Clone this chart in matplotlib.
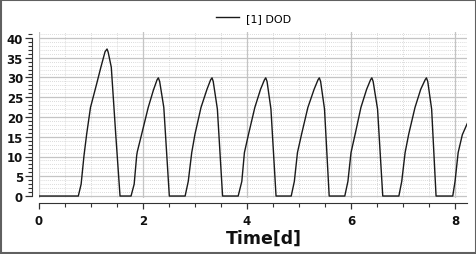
import matplotlib
matplotlib.use("Agg")
import matplotlib.pyplot as plt
from matplotlib.ticker import MultipleLocator
from matplotlib.patches import Rectangle

# tempo em dias e DOD
tempo = [0.0, 0.756, 0.81, 0.865, 0.917, 0.99, 1.109, 1.19, 1.27, 1.308, 1.33, 1.39, 1.475, 1.558,
         1.77, 1.83, 1.878, 1.89, 1.975, 2.10, 2.20, 2.27, 2.295, 2.32, 2.40, 2.506,
         2.81, 2.87, 2.937, 3.0, 3.115, 3.23, 3.30, 3.327, 3.35, 3.43, 3.53,
         3.83, 3.90, 3.95, 4.03, 4.15, 4.26, 4.335, 4.36, 4.385, 4.46, 4.558,
         4.85, 4.91, 4.97, 5.05, 5.17, 5.29, 5.365, 5.39, 5.415, 5.49, 5.58,
         5.88, 5.94, 6.0, 6.08, 6.19, 6.30, 6.375, 6.40, 6.425, 6.51, 6.61,
         6.92, 6.975, 7.04, 7.11, 7.23, 7.34, 7.425, 7.45, 7.475, 7.55, 7.635,
         7.956, 8.0, 8.06, 8.14, 8.237]
dod = [0.0, 0.0, 3.0, 10.2, 15.7, 22.4, 28.4, 32.6, 36.5, 37.2, 36.4, 32.6, 15.7, 0.0,
       0.0, 3.0, 10.2, 11.2, 15.7, 22.4, 26.8, 29.4, 29.9, 29.0, 22.4, 0.0,
       0.0, 3.7, 11.0, 15.7, 22.4, 27.0, 29.4, 29.9, 29.0, 22.0, 0.0,
       0.0, 3.7, 11.0, 15.7, 22.4, 27.0, 29.4, 29.9, 29.0, 22.0, 0.0,
       0.0, 3.7, 11.0, 15.7, 22.4, 27.0, 29.4, 29.9, 29.0, 22.0, 0.0,
       0.0, 3.7, 11.0, 15.7, 22.4, 27.0, 29.4, 29.9, 29.0, 22.0, 0.0,
       0.0, 3.7, 11.0, 15.7, 22.4, 27.0, 29.4, 29.9, 29.0, 22.0, 0.0,
       0.0, 3.7, 11.0, 15.5, 18.4]

fig = plt.figure(figsize=(4.77, 2.55), dpi=100)
ax = fig.add_axes([39/477, 56/255, 428/477, 166/255])

linha, = ax.plot(tempo, dod, color='#1a1a1a', linewidth=1.0, label='[1] DOD')

ax.set_xlim(0, 8.23)
ax.set_ylim(-0.5, 41.5)

ax.xaxis.set_major_locator(MultipleLocator(2))
ax.xaxis.set_minor_locator(MultipleLocator(0.5))
ax.yaxis.set_major_locator(MultipleLocator(5))
ax.yaxis.set_minor_locator(MultipleLocator(1))

ax.grid(True, which='major', color='#c4c4c4', linewidth=0.9, linestyle='-')
ax.grid(True, which='minor', color='#cfcfcf', linewidth=0.6, linestyle=(0, (1, 1.5)))
ax.set_axisbelow(True)

for lado in ['top', 'right']:
    ax.spines[lado].set_visible(False)
ax.spines['left'].set_position(('outward', 5))
ax.spines['left'].set_bounds(0, 40)
ax.spines['bottom'].set_position(('outward', 3.6))
ax.spines['bottom'].set_bounds(0, 8.23)
ax.spines['left'].set_color('#333333')
ax.spines['bottom'].set_color('#333333')

ax.tick_params(axis='y', which='major', length=5, width=0.9, pad=1.5, color='#333333')
ax.tick_params(axis='y', which='minor', length=3, width=0.8, color='#333333')
ax.tick_params(axis='x', which='major', length=4.3, width=0.9, pad=3.5, color='#333333')
ax.tick_params(axis='x', which='minor', length=3, width=0.8, color='#333333')
for t in ax.get_xticklabels() + ax.get_yticklabels():
    t.set_fontsize(8.5)
    t.set_fontweight('bold')
    t.set_color('#111111')

fig.text(0.553, 0.063, 'Time[d]', ha='center', va='center', fontsize=12.5,
         fontweight='bold', color='#111111')

fig.legend(handles=[linha], loc='center', bbox_to_anchor=(0.531, 0.925), frameon=False,
           fontsize=8, handlelength=2.1, handletextpad=0.6)

fig.patches.append(Rectangle((0.002, 0.004), 0.996, 0.992, transform=fig.transFigure,
                             fill=False, edgecolor='#606060', linewidth=1.5))

fig.savefig('out.png', dpi=100)
